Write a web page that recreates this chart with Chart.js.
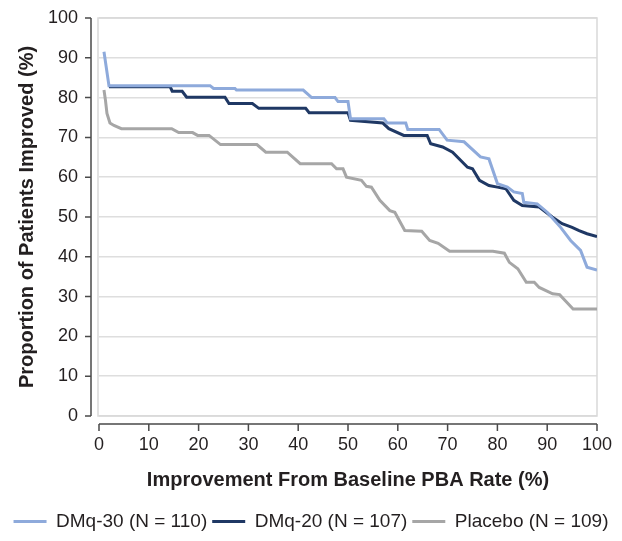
<!DOCTYPE html>
<html>
<head>
<meta charset="utf-8">
<script src="https://cdn.jsdelivr.net/npm/chart.js@4"></script>
<style>
  html, body { margin: 0; padding: 0; background: #fff; }
  #wrap { width: 622px; height: 541px; position: relative; }
</style>
</head>
<body>
<div id="wrap"><canvas id="c"></canvas></div>
<script>
// ---- Data ----
var SERIES_NAMES = ['DMq-30 (N = 110)', 'DMq-20 (N = 107)', 'Placebo (N = 109)'];
var SERIES_COLORS = ['#8eaadb', '#1f3864', '#a6a6a6'];

var DMQ30_X = [1, 2, 22.3, 23, 27.3, 27.6, 41, 42.7, 47.4, 48, 50, 50.5, 57.2, 57.9, 61.6, 62, 68.3, 69.9, 73.3,
  76.6, 78.3, 80, 82, 83.3, 85, 85.3, 88, 90, 92.7, 94.7, 96.7, 98, 100];
var DMQ30_Y = [91.5, 83, 83, 82.3, 82.3, 81.9, 81.9, 80, 80, 79, 79, 74.7, 74.7, 73.6, 73.6, 72, 72, 69.3, 68.9,
  65.1, 64.6, 58.4, 57.5, 56.3, 55.9, 53.7, 53.3, 51.2, 47.4, 44.1, 41.6, 37.4, 36.7];

var DMQ20_X = [2, 14.3, 14.7, 16.7, 17.6, 25.3, 26.1, 30.8, 32.1, 41.5, 42.2, 50, 50.5, 57, 58.2, 61.2, 65.9, 66.6,
  69, 71, 74, 75, 76.4, 78.3, 80, 81.7, 83.3, 85, 88.4, 91, 93, 95, 96.4, 98, 100];
var DMQ20_Y = [82.7, 82.7, 81.6, 81.6, 80.1, 80.1, 78.5, 78.5, 77.3, 77.3, 76.2, 76.2, 74.3, 73.6, 72.2, 70.5, 70.5, 68.4,
  67.6, 66.3, 62.5, 62.1, 59.2, 57.9, 57.5, 57.1, 54.2, 52.9, 52.5, 50, 48.3, 47.4, 46.6, 45.8, 45.1];

var PLACEBO_X = [1, 1.3, 1.6, 2.2, 3, 4.5, 14.6, 16, 18.8, 19.8, 22.1, 24.4, 31.7, 33.5, 37.8, 40.4, 46.7, 47.7, 49,
  49.7, 52.7, 53.7, 54.7, 56.4, 58.4, 59.4, 61.4, 64.8, 66.4, 68.1, 70.4, 79.1, 81.4, 82.4, 84.1, 85.8, 87.4, 88.4,
  91.1, 92.5, 95.2, 100];
var PLACEBO_Y = [81.9, 79.3, 76, 73.6, 73, 72.2, 72.2, 71.2, 71.2, 70.5, 70.5, 68.2, 68.2, 66.3, 66.3, 63.4, 63.4, 62.1, 62.1,
  60, 59.2, 57.7, 57.5, 54.2, 51.6, 51.2, 46.6, 46.4, 44.1, 43.4, 41.4, 41.4, 40.9, 38.6, 37, 33.6, 33.6, 32.3,
  30.7, 30.5, 26.9, 26.9];

var X_TITLE = 'Improvement From Baseline PBA Rate (%)';
var Y_TITLE = 'Proportion of Patients Improved (%)';

var FONT = '"Liberation Sans", Arial, Helvetica, sans-serif';
var TEXT = '#231f20';
var AXIS = '#4a4a4a';

function pts(xs, ys) { return xs.map(function (x, i) { return { x: x, y: ys[i] }; }); }

// Axis lines sit a few pixels off the plot box, ticks pointing outward.
var offsetAxes = {
  id: 'offsetAxes',
  beforeDatasetsDraw: function (chart) {
    var a = chart.chartArea, ctx = chart.ctx;
    ctx.save();
    ctx.strokeStyle = '#d9d9d9'; ctx.lineWidth = 1.5;
    ctx.strokeRect(a.left - 1, a.top, a.right - a.left + 1, a.bottom - a.top);
    ctx.restore();
  },
  afterDraw: function (chart) {
    var ctx = chart.ctx, x = chart.scales.x, y = chart.scales.y, a = chart.chartArea;
    ctx.save();
    ctx.strokeStyle = AXIS; ctx.lineWidth = 1.5;
    var ax = a.left - 8;
    ctx.beginPath();
    ctx.moveTo(ax, y.getPixelForValue(100)); ctx.lineTo(ax, y.getPixelForValue(0));
    y.ticks.forEach(function (t) {
      var py = y.getPixelForValue(t.value);
      ctx.moveTo(ax - 6, py); ctx.lineTo(ax, py);
    });
    var ay = a.bottom + 8;
    ctx.moveTo(x.getPixelForValue(0), ay); ctx.lineTo(x.getPixelForValue(100), ay);
    x.ticks.forEach(function (t) {
      var px = x.getPixelForValue(t.value);
      ctx.moveTo(px, ay); ctx.lineTo(px, ay + 7);
    });
    ctx.stroke();
    ctx.restore();
  }
};

var sets = [[DMQ30_X, DMQ30_Y], [DMQ20_X, DMQ20_Y], [PLACEBO_X, PLACEBO_Y]].map(function (s, i) {
  return {
    label: SERIES_NAMES[i], data: pts(s[0], s[1]),
    borderColor: SERIES_COLORS[i], backgroundColor: SERIES_COLORS[i],
    borderWidth: 3, pointRadius: 0, tension: 0, fill: false
  };
});

new Chart(document.getElementById('c'), {
  type: 'line',
  data: { datasets: sets },
  plugins: [offsetAxes],
  options: {
    responsive: true, maintainAspectRatio: false, animation: false,
    layout: { padding: { top: 18, right: 0, left: 0, bottom: 0 } },
    plugins: {
      tooltip: { enabled: false },
      legend: {
        position: 'bottom',
        labels: {
          boxWidth: 33, boxHeight: 3, padding: 5, color: TEXT,
          font: { family: FONT, size: 19 },
          generateLabels: function (chart) {
            var items = Chart.defaults.plugins.legend.labels.generateLabels(chart);
            items.forEach(function (it) { it.lineWidth = 0; it.fillStyle = it.strokeStyle; });
            return items;
          }
        }
      }
    },
    scales: {
      x: {
        type: 'linear', min: 0, max: 100,
        afterFit: function (s) { s.height = 91; },
        ticks: { stepSize: 10, padding: 0, color: TEXT, font: { family: FONT, size: 18 }, maxRotation: 0 },
        // invisible tick marks only push the labels down
        grid: { display: true, drawOnChartArea: false, drawTicks: true, tickLength: 18, tickColor: 'transparent', color: 'transparent' },
        border: { display: false },
        title: { display: true, text: X_TITLE, color: TEXT, padding: { top: 0, bottom: 15 },
          font: { family: FONT, size: 20, weight: 'bold' } }
      },
      y: {
        min: 0, max: 100,
        afterFit: function (s) { s.width = 99; },
        ticks: { stepSize: 10, padding: 0, color: TEXT, font: { family: FONT, size: 18 } },
        grid: { color: '#dedede', lineWidth: 1.5, drawTicks: true, tickLength: 21, tickColor: 'transparent' },
        border: { display: false },
        title: { display: true, text: Y_TITLE, color: TEXT, padding: { top: 15, bottom: 0 },
          font: { family: FONT, size: 20, weight: 'bold' } }
      },
      // empty right-hand axis, only reserves the margin right of the plot
      yR: {
        position: 'right', min: 0, max: 100,
        afterFit: function (s) { s.width = 25; },
        ticks: { display: false },
        grid: { display: false, drawTicks: false },
        border: { display: false }
      }
    }
  }
});
</script>
</body>
</html>
